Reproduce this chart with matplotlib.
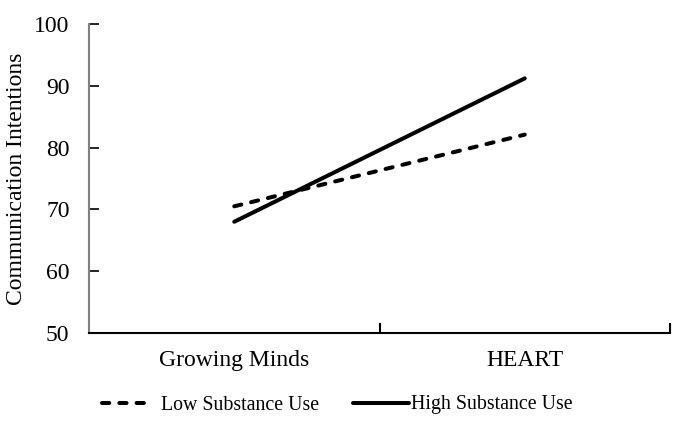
import matplotlib
matplotlib.use("Agg")
import matplotlib.pyplot as plt

categories = ["Growing Minds", "HEART"]
low_use = [70.5, 82.1]
high_use = [68.0, 91.2]
series_labels = ["Low Substance Use", "High Substance Use"]
y_ticks = [50, 60, 70, 80, 90, 100]

plt.rcParams['font.family'] = ['Liberation Serif', 'DejaVu Serif']

fig = plt.figure(figsize=(6.82, 4.22), dpi=100)
ax = fig.add_axes([89/682, 89/422, 581/682, 309/422])

x = list(range(len(categories)))
l1, = ax.plot(x, low_use, color='black', lw=2.9, linestyle=(0, (1.8, 2.5)),
              dash_capstyle='round', solid_capstyle='round')
l2, = ax.plot(x, high_use, color='black', lw=2.9, solid_capstyle='round')

ax.set_xlim(-0.5, 1.5)
ax.set_ylim(50, 100)
ax.set_yticks(y_ticks)
ax.set_yticklabels([str(v) for v in y_ticks], fontsize=17)
ax.set_xticks(x)
ax.set_xticklabels(categories, fontsize=17)
ax.tick_params(axis='x', length=0, pad=12)
ax.tick_params(axis='y', direction='in', length=7, width=1.2, color='black', pad=14)
ax.set_xticks([0.5, 1.5], minor=True)
ax.tick_params(axis='x', which='minor', direction='in', length=7, width=1.5, color='black')
ax.set_ylabel("Communication Intentions", fontsize=17, labelpad=5)

for s in ['top', 'right']:
    ax.spines[s].set_visible(False)
ax.spines['left'].set_color('#808080')
ax.spines['left'].set_linewidth(1.5)
ax.spines['bottom'].set_color('black')
ax.spines['bottom'].set_linewidth(1.5)

yleg = 1 - 405/422
leg1 = fig.legend([l1], [series_labels[0]], loc='center left', bbox_to_anchor=(102/682, yleg),
                  frameon=False, fontsize=14.3, handlelength=2.45, handletextpad=0.5,
                  borderpad=0, borderaxespad=0)
leg2 = fig.legend([l2], [series_labels[1]], loc='center left', bbox_to_anchor=(353/682, yleg),
                  frameon=False, fontsize=14.3, handlelength=2.8, handletextpad=0.1,
                  borderpad=0, borderaxespad=0)

fig.savefig("out.png", dpi=100)
